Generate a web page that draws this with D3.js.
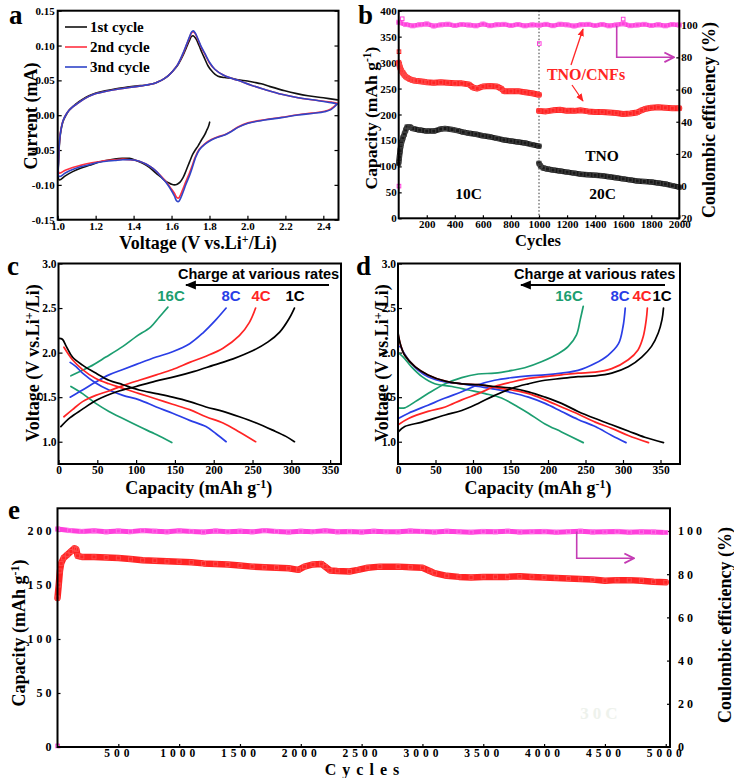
<!DOCTYPE html>
<html><head><meta charset="utf-8">
<script src="https://cdn.jsdelivr.net/npm/d3@7/dist/d3.min.js"></script>
<style>html,body{margin:0;padding:0;background:#fff}svg{display:block}</style>
</head><body>
<svg id="chart" width="734" height="778"></svg>
<script>
// ================= DATA =================
// ---- Panel a : cyclic voltammetry (V, mA) ----
const aXTicks = [1.0,1.2,1.4,1.6,1.8,2.0,2.2,2.4];
const aYTicks = [-0.15,-0.10,-0.05,0.00,0.05,0.10,0.15];
const cvNames = ["1st cycle","2nd cycle","3nd cycle"];
const cvCycle1 = [[1.801,-0.010],[1.795,-0.016],[1.785,-0.022],[1.775,-0.028],[1.757,-0.036],[1.740,-0.044],[1.725,-0.050],[1.712,-0.056],[1.695,-0.067],[1.676,-0.080],[1.660,-0.090],[1.645,-0.096],[1.630,-0.099],[1.615,-0.100],[1.600,-0.099],[1.585,-0.097],[1.571,-0.095],[1.545,-0.089],[1.518,-0.083],[1.483,-0.075],[1.448,-0.069],[1.413,-0.065],[1.378,-0.062],[1.34,-0.062],[1.30,-0.063],[1.255,-0.065],[1.21,-0.068],[1.167,-0.072],[1.12,-0.076],[1.079,-0.081],[1.04,-0.087],[1.008,-0.093],
 [1.005,-0.065],[1.010,-0.038],[1.017,-0.022],[1.028,-0.009],[1.044,0.000],[1.06,0.007],[1.079,0.012],[1.10,0.017],[1.132,0.023],[1.165,0.028],[1.202,0.032],[1.25,0.035],[1.307,0.038],[1.36,0.040],[1.413,0.042],[1.46,0.043],[1.501,0.045],[1.53,0.048],[1.553,0.051],[1.58,0.056],[1.606,0.063],[1.633,0.072],[1.659,0.085],[1.678,0.097],[1.694,0.107],[1.705,0.113],[1.714,0.114],[1.728,0.110],[1.745,0.100],[1.760,0.090],[1.775,0.081],[1.792,0.071],[1.810,0.064],[1.828,0.059],[1.845,0.056],[1.880,0.054],[1.915,0.053],[1.950,0.051],[2.0,0.049],[2.04,0.047],[2.073,0.045],[2.12,0.041],[2.197,0.035],[2.26,0.031],[2.319,0.028],[2.40,0.025],[2.474,0.022]];
const cvCycle2 = [[2.474,0.017],[2.44,0.009],[2.407,0.0056],[2.34,0.003],[2.267,0.0007],[2.18,-0.003],[2.091,-0.0065],[2.003,-0.011],[1.950,-0.017],[1.915,-0.023],[1.880,-0.028],[1.845,-0.031],[1.810,-0.035],[1.775,-0.041],[1.746,-0.049],[1.725,-0.060],[1.712,-0.070],[1.693,-0.084],[1.676,-0.095],[1.660,-0.106],[1.648,-0.114],[1.637,-0.119],[1.627,-0.118],[1.615,-0.112],[1.597,-0.105],[1.575,-0.097],[1.553,-0.090],[1.525,-0.082],[1.500,-0.076],[1.465,-0.070],[1.43,-0.066],[1.385,-0.064],[1.343,-0.063],[1.30,-0.064],[1.255,-0.065],[1.21,-0.067],[1.167,-0.069],[1.12,-0.072],[1.079,-0.075],[1.04,-0.079],[1.008,-0.083],
 [1.005,-0.060],[1.010,-0.035],[1.017,-0.020],[1.028,-0.008],[1.044,0.001],[1.06,0.007],[1.079,0.012],[1.10,0.016],[1.132,0.022],[1.165,0.027],[1.202,0.031],[1.25,0.034],[1.307,0.037],[1.36,0.039],[1.413,0.041],[1.46,0.043],[1.501,0.045],[1.53,0.048],[1.553,0.051],[1.58,0.056],[1.606,0.063],[1.633,0.073],[1.659,0.087],[1.678,0.100],[1.694,0.111],[1.705,0.118],[1.714,0.120],[1.725,0.117],[1.740,0.108],[1.757,0.097],[1.775,0.088],[1.800,0.075],[1.828,0.066],[1.870,0.058],[1.915,0.053],[1.950,0.050],[2.02,0.043],[2.091,0.037],[2.18,0.030],[2.267,0.025],[2.37,0.021],[2.44,0.019],[2.474,0.017]];
const cvCycle3 = [[2.474,0.016],[2.44,0.008],[2.407,0.005],[2.34,0.0025],[2.267,0.0003],[2.18,-0.0035],[2.091,-0.007],[2.003,-0.0115],[1.950,-0.0175],[1.915,-0.0235],[1.880,-0.0285],[1.845,-0.0315],[1.810,-0.0355],[1.775,-0.042],[1.746,-0.050],[1.725,-0.062],[1.712,-0.073],[1.693,-0.088],[1.676,-0.099],[1.660,-0.111],[1.648,-0.119],[1.637,-0.124],[1.627,-0.123],[1.615,-0.116],[1.597,-0.107],[1.575,-0.098],[1.553,-0.091],[1.525,-0.082],[1.500,-0.076],[1.465,-0.070],[1.43,-0.066],[1.385,-0.064],[1.343,-0.064],[1.30,-0.065],[1.255,-0.066],[1.21,-0.068],[1.167,-0.071],[1.12,-0.074],[1.079,-0.078],[1.04,-0.083],[1.008,-0.088],
 [1.005,-0.062],[1.010,-0.036],[1.017,-0.021],[1.028,-0.008],[1.044,0.001],[1.06,0.007],[1.079,0.012],[1.10,0.016],[1.132,0.022],[1.165,0.027],[1.202,0.031],[1.25,0.034],[1.307,0.037],[1.36,0.039],[1.413,0.041],[1.46,0.043],[1.501,0.045],[1.53,0.048],[1.553,0.051],[1.58,0.056],[1.606,0.063],[1.633,0.073],[1.659,0.088],[1.678,0.101],[1.694,0.112],[1.705,0.119],[1.714,0.121],[1.725,0.118],[1.740,0.109],[1.757,0.098],[1.775,0.089],[1.800,0.076],[1.828,0.066],[1.870,0.058],[1.915,0.053],[1.950,0.050],[2.02,0.043],[2.091,0.037],[2.18,0.030],[2.267,0.025],[2.37,0.021],[2.44,0.018],[2.474,0.016]];

// ---- Panel b : rate cycling ----
const bXTicks = [200,400,600,800,1000,1200,1400,1600,1800,2000];
const bYTicks = [0,50,100,150,200,250,300,350,400];
const bRTicks = [-20,0,20,40,60,80,100];
const bCeValues = [101.8,100.4,99.6,100.3,100.8,99.5,100.2,100.6,99.8,100.4,100.1,99.6,100.7,99.7,100.3,100.5,99.8,100.4,99.6,100.2,100.0,100.5,99.7,100.6,100.2,99.5,100.3,100.5,99.8,100.4,99.6,100.2,100.9,99.7,100.1,100.5,99.8,100.3,99.6,100.4,100.1];
const bCeStep = 50;
const bCeOutliers = [[2,0],[1002,88.6],[1600,103.8],[25,104]];
const bCnfCycles10 = [0,5,10,20,30,40,50,60,80,100,120,150,180,200,250,300,350,400,450,500,530,560,600,650,700,730,750,800,850,900,950,1000];
const bCnfCap10 = [300,295,290,284,280,276,273,271,268,266,265,264,263,262,261,262,261,260,260,258,252,250,254,255,254,250,245,245,245,243,241,238];
const bCnfOutliers = [[2,321]];
const bCnfCycles20 = [1000,1050,1100,1150,1200,1250,1300,1350,1400,1450,1500,1550,1600,1650,1700,1730,1760,1800,1850,1900,1950,2000];
const bCnfCap20 = [207,206,208,209,207,207,208,206,205,205,204,203,201,202,204,208,211,213,214,213,212,212];
const bTnoCycles10 = [0,5,10,15,20,30,40,50,60,80,100,150,200,250,300,330,380,420,460,500,550,600,650,700,750,800,850,900,950,1000];
const bTnoCap10 = [106,118,130,140,145,155,162,170,176,176,173,170,168,168,172,173,171,169,166,164,162,159,157,154,151,149,147,145,142,139];
const bTnoCycles20 = [1000,1010,1030,1060,1100,1150,1200,1250,1300,1350,1400,1450,1500,1550,1600,1650,1700,1750,1800,1850,1900,1950,2000];
const bTnoCap20 = [106,101,97,95,93,91,89,87,85,84,83,82,80,78,76,74,72,71,70,68,66,63,60];

// ---- Panel c : TNO charge/discharge (mAh/g, V) ----
const cdXTicks = [0,50,100,150,200,250,300,350];
const cdYTicks = [1.0,1.5,2.0,2.5,3.0];
const rateLabels = ["16C","8C","4C","1C"];
const c1cCharge = [[3,1.17],[15,1.27],[30,1.36],[50,1.47],[75,1.56],[100,1.62],[125,1.68],[150,1.73],[175,1.79],[200,1.86],[225,1.93],[250,2.02],[270,2.12],[285,2.23],[297,2.38],[304,2.50]];
const c1cDischarge = [[1,2.16],[5,2.15],[10,2.07],[18,1.95],[31,1.86],[48,1.77],[65,1.69],[83,1.64],[104,1.58],[126,1.54],[147,1.50],[169,1.45],[190,1.39],[212,1.34],[233,1.28],[255,1.21],[276,1.13],[293,1.06],[304,1.00]];
const c4cCharge = [[7,1.28],[18,1.36],[31,1.45],[48,1.52],[65,1.57],[83,1.63],[104,1.69],[126,1.75],[147,1.81],[169,1.89],[190,1.96],[212,2.05],[233,2.19],[246,2.34],[254,2.50]];
const c4cDischarge = [[7,2.06],[18,1.92],[31,1.81],[48,1.71],[65,1.65],[83,1.60],[104,1.54],[126,1.48],[147,1.42],[169,1.36],[190,1.28],[212,1.21],[233,1.11],[254,1.00]];
const c8cCharge = [[15,1.50],[31,1.58],[48,1.67],[65,1.75],[83,1.81],[104,1.88],[126,1.95],[147,2.01],[169,2.10],[186,2.22],[203,2.37],[216,2.50]];
const c8cDischarge = [[15,1.89],[23,1.84],[31,1.77],[48,1.66],[65,1.58],[83,1.52],[104,1.47],[126,1.39],[147,1.32],[169,1.24],[190,1.17],[203,1.09],[216,1.00]];
const c16cCharge = [[16,1.74],[40,1.84],[61,1.95],[83,2.07],[100,2.18],[119,2.29],[130,2.40],[141,2.51]];
const c16cDischarge = [[16,1.62],[31,1.54],[48,1.43],[65,1.34],[83,1.26],[104,1.17],[126,1.08],[146,0.99]];

// ---- Panel d : TNO/CNFs charge/discharge ----
const d1cCharge = [[0.4,1.11],[9,1.17],[32,1.22],[63,1.30],[85,1.35],[107,1.43],[129,1.52],[152,1.60],[174,1.65],[196,1.69],[218,1.71],[240,1.73],[263,1.74],[285,1.77],[307,1.84],[325,1.95],[338,2.07],[347,2.22],[352,2.37],[354,2.50]];
const d1cDischarge = [[0,2.23],[3,2.10],[9,1.97],[23,1.84],[40,1.75],[63,1.68],[85,1.65],[107,1.64],[129,1.62],[152,1.60],[174,1.56],[196,1.50],[218,1.43],[240,1.34],[263,1.26],[285,1.19],[307,1.12],[329,1.05],[354,0.99]];
const d4cCharge = [[0.4,1.19],[14,1.26],[40,1.34],[63,1.39],[85,1.47],[107,1.54],[129,1.62],[152,1.67],[174,1.71],[196,1.73],[218,1.75],[240,1.77],[263,1.78],[285,1.82],[307,1.92],[320,2.03],[327,2.18],[331,2.37],[332.5,2.50]];
const d4cDischarge = [[0,2.21],[3,2.10],[9,1.97],[23,1.84],[40,1.75],[63,1.68],[85,1.65],[107,1.64],[129,1.61],[152,1.58],[174,1.54],[196,1.47],[218,1.39],[240,1.31],[263,1.22],[285,1.15],[307,1.07],[334,0.99]];
const d8cCharge = [[0.4,1.26],[14,1.32],[40,1.41],[63,1.49],[85,1.56],[107,1.64],[129,1.69],[152,1.72],[174,1.74],[196,1.75],[218,1.77],[240,1.80],[263,1.88],[280,1.97],[294,2.10],[300,2.29],[303,2.50]];
const d8cDischarge = [[0,2.06],[3,2.07],[7,2.01],[14,1.92],[27,1.80],[40,1.73],[63,1.67],[85,1.65],[107,1.62],[129,1.59],[152,1.55],[174,1.50],[196,1.43],[218,1.34],[240,1.25],[263,1.17],[285,1.07],[304,0.99]];
const d16cCharge = [[0.4,1.38],[9,1.38],[23,1.45],[40,1.54],[63,1.65],[85,1.72],[107,1.76],[129,1.77],[152,1.80],[169,1.83],[192,1.90],[214,1.99],[227,2.07],[238,2.20],[243,2.37],[247,2.52]];
const d16cDischarge = [[0,2.00],[7,1.95],[18,1.84],[32,1.73],[49,1.65],[72,1.62],[94,1.58],[116,1.54],[138,1.49],[160,1.39],[174,1.32],[196,1.20],[218,1.11],[247,0.99]];

// ---- Panel e : long cycling ----
const eXTicks = [500,1000,1500,2000,2500,3000,3500,4000,4500,5000];
const eYTicks = [0,50,100,150,200];
const eRTicks = [0,20,40,60,80,100];
const eCapCycles = [0,10,20,30,50,80,110,140,155,165,200,300,400,500,600,700,800,900,1000,1100,1200,1300,1400,1500,1600,1700,1800,1900,1980,2030,2100,2170,2200,2240,2300,2400,2470,2550,2650,2800,2900,3000,3060,3100,3200,3300,3400,3500,3600,3700,3800,3900,4000,4100,4200,4300,4400,4500,4600,4700,4800,4900,5000];
const eCapValues = [138,150,163,170,175,178,181,184,183,177,176,176,175.5,175,174,173,172.5,172,171.5,171,170,169.5,169,168,167,166.5,166,165.5,164,167,169,169.5,167,163.5,163,162.5,164,166,167,167,166.5,166,163,161,158.5,157.5,157,157.5,157.5,157.5,158,157.5,157,156.5,156,155.5,155,154,154.5,154.5,154,153,152.5];
const eCeValues = [100.9,100.2,99.8,100.1,99.6,100.0,99.7,100.2,99.9,99.6,100.1,99.8,99.5,100.0,99.7,99.9,99.6,100.2,99.8,99.5,99.9,99.7,100.1,99.6,99.8,99.5,99.9,99.7,99.6,100.0,99.8,99.5,99.9,99.7,99.4,99.8,99.6,99.9,99.5,99.7,99.8,99.4,99.7,99.9,99.5,99.6,99.8,99.4,99.6,99.5,99.3];
const eCeStep = 100;
const eCeOutliers = [[1,0.5]];

// ================= STYLE =================
const SERIF = "'Liberation Serif','Times New Roman',serif";
const SANS = "'Liberation Sans',Arial,sans-serif";
const PINK = "#ff40dc", PINKARROW = "#c43cb4", RED = "#ff2424", BLUE = "#2a3ee6", GREEN = "#1c9e70";
const CV_COLORS = ["#111111", "#ff3040", "#3045c8"];
const INT = d3.format("d");

const svg = d3.select("#chart");
const defs = svg.append("defs");
function arrowMarker(id, color, w, open) {
  const m = defs.append("marker").attr("id", id).attr("viewBox", "0 0 10 10")
    .attr("refX", 9).attr("refY", 5).attr("markerWidth", w).attr("markerHeight", w)
    .attr("orient", "auto").attr("markerUnits", "userSpaceOnUse");
  if (open) m.append("path").attr("d", "M1,1 L9,5 L1,9").attr("fill", "none").attr("stroke", color).attr("stroke-width", 1.6);
  else m.append("path").attr("d", "M0,1 L10,5 L0,9 z").attr("fill", color);
}
arrowMarker("arRed", RED, 8, false);
arrowMarker("arPink", PINKARROW, 12, true);
arrowMarker("arBlack", "#000", 11, false);

function frame(x0, y0, x1, y1) {
  svg.append("rect").attr("x", x0).attr("y", y0).attr("width", x1 - x0).attr("height", y1 - y0)
    .attr("fill", "none").attr("stroke", "#000").attr("stroke-width", 2);
}
function styleAxis(g, size, ls) {
  g.select(".domain").remove();
  g.selectAll(".tick line").attr("stroke", "#000").attr("stroke-width", 1.2);
  g.selectAll(".tick text").attr("font-family", SERIF).attr("font-weight", "bold")
    .attr("font-size", size).attr("fill", "#000");
  if (ls) g.selectAll(".tick text").attr("letter-spacing", ls);
  return g;
}
function addAxis(gen, tx, ty, size, ls) {
  return styleAxis(svg.append("g").attr("transform", `translate(${tx},${ty})`).call(gen), size, ls);
}
// text with optional superscripts: parts = ["plain", ["sup"], "plain"]
function label(x, y, parts, o) {
  const size = o.size || 18;
  const t = svg.append("text").attr("font-family", o.family || SERIF).attr("font-weight", "bold")
    .attr("font-size", size).attr("fill", o.color || "#000").attr("text-anchor", o.anchor || "middle")
    .attr("transform", `translate(${x},${y})` + (o.rotate ? " rotate(-90)" : ""));
  if (o.ls) t.attr("letter-spacing", o.ls);
  let shifted = false;
  parts.forEach(p => {
    if (Array.isArray(p)) {
      t.append("tspan").attr("font-size", size * 0.66).attr("dy", -size * 0.36).text(p[0]);
      shifted = true;
    } else {
      const s = t.append("tspan").text(p);
      if (shifted) { s.attr("dy", size * 0.36); shifted = false; }
    }
  });
  return t;
}
function panelLetter(x, y, ch) {
  svg.append("text").attr("x", x).attr("y", y).attr("font-family", SERIF).attr("font-weight", "bold")
    .attr("font-size", 27).text(ch);
}
function curve(data, x, y, color, w, smooth) {
  const ln = d3.line().x(d => x(d[0])).y(d => y(d[1]));
  if (smooth) ln.curve(d3.curveCatmullRom.alpha(0.5));
  svg.append("path").datum(data).attr("d", ln).attr("fill", "none").attr("stroke", color)
    .attr("stroke-width", w).attr("stroke-linejoin", "round").attr("stroke-linecap", "round");
}
function band(xs, ys, x, y, color, w, mcolor) {
  const pts = xs.map((c, i) => [c, ys[i]]);
  curve(pts, x, y, color, w, false);
  svg.append("g").selectAll("rect").data(pts).join("rect")
    .attr("x", d => x(d[0]) - 2).attr("y", d => y(d[1]) - 2).attr("width", 4).attr("height", 4)
    .attr("fill", "none").attr("stroke", mcolor).attr("stroke-width", 1);
}
function dots(pts, x, y, color) {
  svg.append("g").selectAll("rect").data(pts).join("rect")
    .attr("x", d => x(d[0]) - 1.8).attr("y", d => y(d[1]) - 1.8).attr("width", 3.6).attr("height", 3.6)
    .attr("fill", "none").attr("stroke", color).attr("stroke-width", 1);
}

// ================= PANEL a =================
{
  const x = d3.scaleLinear().domain([1.0, 2.48]).range([57.7, 338.5]);
  const y = d3.scaleLinear().domain([-0.15, 0.15]).range([219.7, 10.7]);
  addAxis(d3.axisLeft(y).tickValues(aYTicks).tickSize(-4).tickPadding(3).tickFormat(d => d.toFixed(2)), 57.7, 0, 11);
  addAxis(d3.axisRight(y).tickValues(aYTicks).tickSize(-4).tickFormat(""), 338.5, 0, 11);
  addAxis(d3.axisBottom(x).tickValues(aXTicks).tickSize(-4).tickPadding(3).tickFormat(d => d.toFixed(1)), 0, 219.7, 11);
  curve(cvCycle1, x, y, CV_COLORS[0], 1.6, true);
  curve(cvCycle2, x, y, CV_COLORS[1], 1.6, true);
  curve(cvCycle3, x, y, CV_COLORS[2], 1.6, true);
  frame(57.7, 10.7, 338.5, 219.7);
  cvNames.forEach((n, i) => {
    const yy = 27 + i * 20;
    svg.append("line").attr("x1", 65).attr("x2", 87).attr("y1", yy).attr("y2", yy)
      .attr("stroke", CV_COLORS[i]).attr("stroke-width", 1.6);
    svg.append("text").attr("x", 90).attr("y", yy + 5).attr("font-family", SERIF).attr("font-weight", "bold")
      .attr("font-size", 15).text(n);
  });
  label(37, 116, ["Current (mA)"], { rotate: true, size: 18 });
  label(198, 249, ["Voltage (V vs.Li", ["+"], "/Li)"], { size: 18 });
  panelLetter(9, 24, "a");
}

// ================= PANEL b =================
{
  const x = d3.scaleLinear().domain([0, 2000]).range([398.7, 679.3]);
  const y = d3.scaleLinear().domain([0, 400]).range([218.3, 10.7]);
  const yr = d3.scaleLinear().domain([-20, 109]).range([218.3, 10.7]);
  addAxis(d3.axisLeft(y).tickValues(bYTicks).tickSize(-3).tickPadding(2).tickFormat(INT), 398.7, 0, 11);
  addAxis(d3.axisRight(yr).tickValues(bRTicks).tickSize(-3).tickPadding(2).tickFormat(d => INT(Math.abs(d))), 679.3, 0, 11);
  addAxis(d3.axisBottom(x).tickValues(bXTicks).tickSize(-3).tickPadding(2).tickFormat(INT), 0, 218.3, 11);
  svg.append("line").attr("x1", x(1000)).attr("x2", x(1000)).attr("y1", 10.7).attr("y2", 218.3)
    .attr("stroke", "#333").attr("stroke-width", 1).attr("stroke-dasharray", "1.5,2");
  band(bCeValues.map((v, i) => i * bCeStep), bCeValues, x, yr, PINK, 4.5, "#ff70e6");
  dots(bCeOutliers, x, yr, PINK);
  band(bCnfCycles10, bCnfCap10, x, y, RED, 6, "#ff4a4a");
  band(bCnfCycles20, bCnfCap20, x, y, RED, 6, "#ff4a4a");
  dots(bCnfOutliers, x, y, RED);
  band(bTnoCycles10, bTnoCap10, x, y, "#1a1a1a", 5.5, "#444");
  band(bTnoCycles20, bTnoCap20, x, y, "#1a1a1a", 5.5, "#444");
  frame(398.7, 10.7, 679.3, 218.3);
  svg.append("text").attr("x", 586).attr("y", 80).attr("text-anchor", "middle").attr("font-family", SERIF)
    .attr("font-weight", "bold").attr("font-size", 16).attr("fill", RED).text("TNO/CNFs");
  svg.append("line").attr("x1", 571).attr("y1", 65).attr("x2", 583).attr("y2", 29)
    .attr("stroke", RED).attr("stroke-width", 1.3).attr("marker-end", "url(#arRed)");
  svg.append("line").attr("x1", 572).attr("y1", 85).attr("x2", 583).attr("y2", 101)
    .attr("stroke", RED).attr("stroke-width", 1.3).attr("marker-end", "url(#arRed)");
  svg.append("path").attr("d", "M616.7,26 L616.7,57.3 L674,57.3").attr("fill", "none")
    .attr("stroke", PINKARROW).attr("stroke-width", 1.6).attr("marker-end", "url(#arPink)");
  [["TNO", 602, 161], ["10C", 468.5, 199], ["20C", 602.7, 199]].forEach(a => {
    svg.append("text").attr("x", a[1]).attr("y", a[2]).attr("text-anchor", "middle").attr("font-family", SERIF)
      .attr("font-weight", "bold").attr("font-size", 15.5).attr("fill", "#000").text(a[0]);
  });
  label(377, 118, ["Capacity (mAh g", ["-1"], ")"], { rotate: true, size: 17.5 });
  label(715, 120, ["Coulombic efficiency (%)"], { rotate: true, size: 18 });
  label(538, 246, ["Cycles"], { size: 16.5 });
  panelLetter(358, 24, "b");
}

// ================= PANELS c, d =================
function chargePanel(x0, x1, xMax, sets, labelPos, arrow, textX, letterX, letter) {
  const x = d3.scaleLinear().domain([0, xMax]).range([x0, x1]);
  const y = d3.scaleLinear().domain([0.75, 3.0]).range([464, 263.5]);
  addAxis(d3.axisLeft(y).tickValues(cdYTicks).tickSize(-4).tickPadding(2).tickFormat(d => d.toFixed(1)), x0, 0, 11.5);
  addAxis(d3.axisBottom(x).tickValues(cdXTicks).tickSize(-4).tickPadding(2).tickFormat(INT), 0, 464, 11.5);
  sets.forEach(s => { curve(s[0], x, y, s[2], 1.7, true); curve(s[1], x, y, s[2], 1.7, true); });
  frame(x0, 263.5, x1, 464);
  svg.append("text").attr("x", textX).attr("y", 279).attr("text-anchor", "middle").attr("font-family", SANS)
    .attr("font-weight", "bold").attr("font-size", 14.5).text("Charge at various rates");
  svg.append("line").attr("x1", arrow[1]).attr("x2", arrow[0]).attr("y1", 285).attr("y2", 285)
    .attr("stroke", "#000").attr("stroke-width", 2).attr("marker-end", "url(#arBlack)");
  rateLabels.forEach((r, i) => {
    svg.append("text").attr("x", labelPos[i]).attr("y", 301).attr("text-anchor", "middle").attr("font-family", SANS)
      .attr("font-weight", "bold").attr("font-size", 15).attr("fill", [GREEN, BLUE, RED, "#000"][i]).text(r);
  });
  const cx = (x0 + x1) / 2;
  label(cx - 1, 494, ["Capacity (mAh g", ["-1"], ")"], { size: 18 });
  label(letterX + 32, 363, ["Voltage (V vs.Li", ["+"], "/Li)"], { rotate: true, size: 18 });
  panelLetter(letterX, 275, letter);
}
chargePanel(58.5, 341, 364,
  [[c16cCharge, c16cDischarge, GREEN], [c8cCharge, c8cDischarge, BLUE], [c4cCharge, c4cDischarge, RED], [c1cCharge, c1cDischarge, "#000"]],
  [171, 231, 261, 295], [186, 329], 258.5, 7, "c");
chargePanel(398, 680, 376,
  [[d16cCharge, d16cDischarge, GREEN], [d8cCharge, d8cDischarge, BLUE], [d4cCharge, d4cDischarge, RED], [d1cCharge, d1cDischarge, "#000"]],
  [569, 620, 642, 662], [521, 665], 594.7, 356, "d");

// ================= PANEL e =================
{
  const x = d3.scaleLinear().domain([0, 5035]).range([57.5, 670]);
  const y = d3.scaleLinear().domain([0, 221]).range([747, 508.3]);
  const yr = d3.scaleLinear().domain([0, 110.5]).range([747, 508.3]);
  addAxis(d3.axisLeft(y).tickValues(eYTicks).tickSize(-3).tickPadding(3).tickFormat(INT), 57.5, 0, 12, 3);
  addAxis(d3.axisRight(yr).tickValues(eRTicks).tickSize(-3).tickPadding(8).tickFormat(INT), 670, 0, 12, 3);
  addAxis(d3.axisBottom(x).tickValues(eXTicks).tickSize(-3).tickPadding(2).tickFormat(INT), 0, 747, 11.5, 4);
  band(eCeValues.map((v, i) => i * eCeStep), eCeValues, x, yr, PINK, 5, "#ff70e6");
  dots(eCeOutliers, x, yr, PINK);
  band(eCapCycles, eCapValues, x, y, RED, 6.5, "#ff4a4a");
  frame(57.5, 508.3, 670, 747);
  svg.append("path").attr("d", "M576.7,531.5 L576.7,558.3 L634,558.3").attr("fill", "none")
    .attr("stroke", PINKARROW).attr("stroke-width", 1.6).attr("marker-end", "url(#arPink)");
  svg.append("text").attr("x", 601).attr("y", 719).attr("text-anchor", "middle").attr("font-family", SERIF)
    .attr("font-weight", "bold").attr("font-size", 17).attr("letter-spacing", 4).attr("fill", "#eef2ec").text("30C");
  label(25, 633, ["Capacity (mAh g", ["-1"], ")"], { rotate: true, size: 18 });
  label(731, 625, ["Coulombic efficiency (%)"], { rotate: true, size: 18 });
  label(365, 774.5, ["Cycles"], { size: 16, ls: 6 });
  panelLetter(8, 519, "e");
}
</script>
</body></html>
